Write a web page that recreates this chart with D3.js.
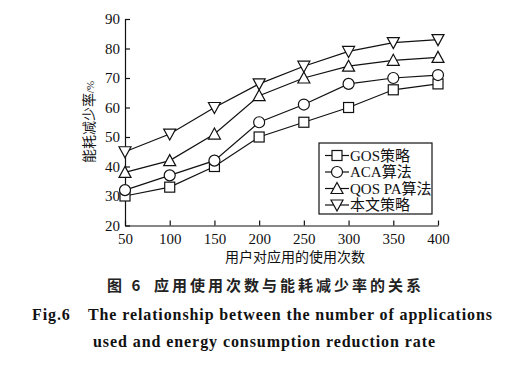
<!DOCTYPE html>
<html>
<head>
<meta charset="utf-8">
<script src="https://cdn.jsdelivr.net/npm/d3@7"></script>
<style>
  body { margin: 0; background: #fff; }
  svg { display: block; }
</style>
</head>
<body>
<svg width="511" height="368"></svg>
<script>
// data
const counts = [50, 100, 150, 200, 250, 300, 350, 400];
const gos = [30, 33, 40, 50, 55, 60, 66, 68];
const aca = [32, 37, 42, 55, 61, 68, 70, 71];
const qospa = [38, 42, 51, 64, 70, 74, 76, 77];
const ours = [45, 51, 60, 68, 74, 79, 82, 83];
const seriesNames = ["GOS策略", "ACA算法", "QOS PA算法", "本文策略"];
const yTicks = [20, 30, 40, 50, 60, 70, 80, 90];

const series = [
  { name: seriesNames[0], values: gos, shape: "square" },
  { name: seriesNames[1], values: aca, shape: "circle" },
  { name: seriesNames[2], values: qospa, shape: "up" },
  { name: seriesNames[3], values: ours, shape: "down" }
];

const svg = d3.select("svg");
const serif = "'Liberation Serif', 'DejaVu Serif', serif";
const cjk = "'Noto Sans CJK SC', sans-serif";

const x = d3.scaleLinear().domain([50, 400]).range([125, 438]);
const y = d3.scaleLinear().domain([20, 90]).range([225.5, 19]);

// axes, ticks pointing inward
const xAxis = svg.append("g")
  .attr("transform", "translate(0," + y(20) + ")")
  .call(d3.axisBottom(x).tickValues(counts).tickSizeInner(-5).tickSizeOuter(0).tickPadding(8));
const yAxis = svg.append("g")
  .attr("transform", "translate(" + x(50) + ",0)")
  .call(d3.axisLeft(y).tickValues(yTicks).tickSizeInner(-5).tickSizeOuter(0).tickPadding(5));

[xAxis, yAxis].forEach(function (g) {
  g.selectAll("path, line").attr("stroke", "#111").attr("stroke-width", 1.2);
  g.selectAll("text")
    .style("font-family", serif)
    .style("font-size", "15px")
    .attr("fill", "#111");
});

// marker drawing
function marker(g, shape, cx, cy) {
  const s = 5;
  let m;
  if (shape === "square") {
    m = g.append("rect").attr("x", cx - s).attr("y", cy - s).attr("width", 2 * s).attr("height", 2 * s);
  } else if (shape === "circle") {
    m = g.append("circle").attr("cx", cx).attr("cy", cy).attr("r", s + 0.5);
  } else if (shape === "up") {
    m = g.append("path").attr("d", "M" + cx + "," + (cy - s - 1) + "L" + (cx + s + 1) + "," + (cy + s) + "L" + (cx - s - 1) + "," + (cy + s) + "Z");
  } else {
    m = g.append("path").attr("d", "M" + cx + "," + (cy + s + 1) + "L" + (cx + s + 1) + "," + (cy - s) + "L" + (cx - s - 1) + "," + (cy - s) + "Z");
  }
  m.attr("fill", "#fff").attr("stroke", "#111").attr("stroke-width", 1.2);
}

const line = d3.line()
  .x(function (d, i) { return x(counts[i]); })
  .y(function (d) { return y(d); });

series.forEach(function (s) {
  const g = svg.append("g");
  g.append("path")
    .attr("d", line(s.values))
    .attr("fill", "none")
    .attr("stroke", "#111")
    .attr("stroke-width", 1.2);
  s.values.forEach(function (v, i) {
    marker(g, s.shape, x(counts[i]), y(v));
  });
});

// legend
const legend = svg.append("g");
legend.append("rect")
  .attr("x", 319).attr("y", 143).attr("width", 113).attr("height", 71)
  .attr("fill", "#fff").attr("stroke", "#111").attr("stroke-width", 1.2);
series.forEach(function (s, i) {
  const ly = 155.5 + i * 16.5;
  legend.append("line")
    .attr("x1", 325).attr("x2", 349).attr("y1", ly).attr("y2", ly)
    .attr("stroke", "#111").attr("stroke-width", 1.2);
  marker(legend, s.shape, 337, ly);
  legend.append("text")
    .attr("x", 350).attr("y", ly + 5)
    .style("font-family", serif + ", " + cjk)
    .style("font-size", "15px")
    .attr("fill", "#111")
    .text(s.name);
});

// axis titles
svg.append("text")
  .attr("transform", "translate(94,122) rotate(-90)")
  .attr("text-anchor", "middle")
  .style("font-family", cjk)
  .style("font-size", "14px")
  .attr("fill", "#111")
  .text("能耗减少率")
  .append("tspan")
  .style("font-family", serif)
  .style("font-size", "11px")
  .text("/%");

svg.append("text")
  .attr("x", 295).attr("y", 262)
  .attr("text-anchor", "middle")
  .style("font-family", cjk)
  .style("font-size", "14px")
  .attr("fill", "#111")
  .text("用户对应用的使用次数");

// captions
const cap = svg.append("text")
  .attr("y", 291)
  .style("font-family", cjk)
  .style("font-size", "15px")
  .style("font-weight", "bold")
  .attr("fill", "#222");
cap.append("tspan").attr("x", 107).style("letter-spacing", "3px").text("图 6");
cap.append("tspan").attr("x", 154).style("letter-spacing", "3px").text("应用使用次数与能耗减少率的关系");

svg.append("text")
  .attr("x", 32).attr("y", 320)
  .style("font-family", serif)
  .style("font-size", "16px")
  .style("font-weight", "bold")
  .style("letter-spacing", "0.9px")
  .attr("fill", "#111")
  .text("Fig.6");

svg.append("text")
  .attr("x", 88).attr("y", 320)
  .attr("textLength", 404)
  .style("font-family", serif)
  .style("font-size", "16px")
  .style("font-weight", "bold")
  .attr("fill", "#111")
  .text("The relationship between the number of applications");

svg.append("text")
  .attr("x", 93).attr("y", 347)
  .attr("textLength", 342)
  .style("font-family", serif)
  .style("font-size", "16px")
  .style("font-weight", "bold")
  .attr("fill", "#111")
  .text("used and energy consumption reduction rate");
</script>
</body>
</html>
